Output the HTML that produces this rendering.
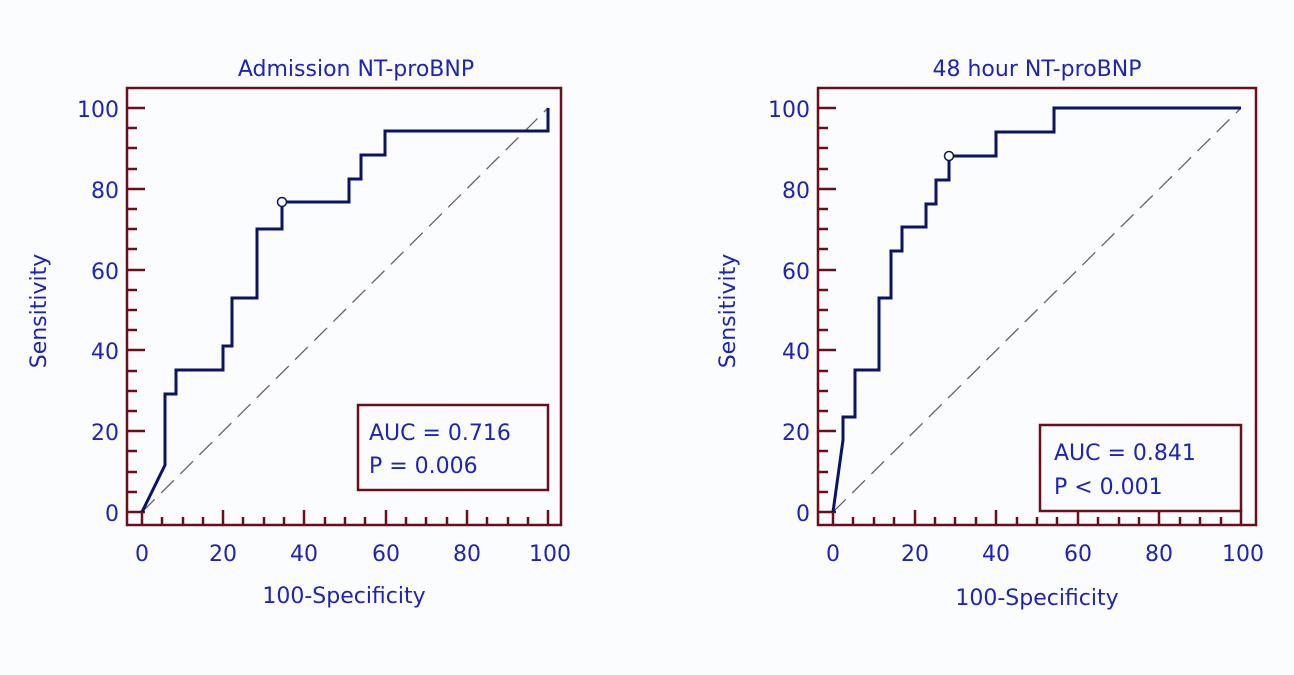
<!DOCTYPE html>
<html><head><meta charset="utf-8"><style>
html,body{margin:0;padding:0;background:#fbfcfe;}
svg{display:block;font-family:"DejaVu Sans","Liberation Sans",sans-serif;}
.t{fill:#1e24b4;font-size:22px;}
</style></head><body>
<svg width="1294" height="675" viewBox="0 0 1294 675" xmlns="http://www.w3.org/2000/svg">
<rect width="1294" height="675" fill="#fbfcfe"/>
<g>
<rect x="127" y="88" width="434" height="437" fill="none" stroke="#6a0e1c" stroke-width="2.5"/>
<g stroke="#6a0e1c" stroke-width="2.5">
<line x1="127" y1="512" x2="145" y2="512"/><line x1="127" y1="431" x2="145" y2="431"/><line x1="127" y1="350" x2="145" y2="350"/><line x1="127" y1="270" x2="145" y2="270"/><line x1="127" y1="189" x2="145" y2="189"/><line x1="127" y1="108" x2="145" y2="108"/>
<line x1="127" y1="492" x2="137" y2="492"/><line x1="127" y1="472" x2="137" y2="472"/><line x1="127" y1="451" x2="137" y2="451"/>
<line x1="127" y1="411" x2="137" y2="411"/><line x1="127" y1="391" x2="137" y2="391"/><line x1="127" y1="371" x2="137" y2="371"/>
<line x1="127" y1="330" x2="137" y2="330"/><line x1="127" y1="310" x2="137" y2="310"/><line x1="127" y1="290" x2="137" y2="290"/>
<line x1="127" y1="249" x2="137" y2="249"/><line x1="127" y1="229" x2="137" y2="229"/><line x1="127" y1="209" x2="137" y2="209"/>
<line x1="127" y1="169" x2="137" y2="169"/><line x1="127" y1="148" x2="137" y2="148"/><line x1="127" y1="128" x2="137" y2="128"/>
<line x1="142" y1="525" x2="142" y2="510"/><line x1="223" y1="525" x2="223" y2="510"/><line x1="304" y1="525" x2="304" y2="510"/><line x1="386" y1="525" x2="386" y2="510"/><line x1="467" y1="525" x2="467" y2="510"/><line x1="548" y1="525" x2="548" y2="510"/>
<line x1="162" y1="525" x2="162" y2="517"/><line x1="183" y1="525" x2="183" y2="517"/><line x1="203" y1="525" x2="203" y2="517"/>
<line x1="243" y1="525" x2="243" y2="517"/><line x1="264" y1="525" x2="264" y2="517"/><line x1="284" y1="525" x2="284" y2="517"/>
<line x1="325" y1="525" x2="325" y2="517"/><line x1="345" y1="525" x2="345" y2="517"/><line x1="365" y1="525" x2="365" y2="517"/>
<line x1="406" y1="525" x2="406" y2="517"/><line x1="426" y1="525" x2="426" y2="517"/><line x1="447" y1="525" x2="447" y2="517"/>
<line x1="487" y1="525" x2="487" y2="517"/><line x1="508" y1="525" x2="508" y2="517"/><line x1="528" y1="525" x2="528" y2="517"/>
</g>
<line x1="142" y1="512" x2="548" y2="108" stroke="#6a6070" stroke-width="1.3" stroke-dasharray="18,9"/>
<polyline fill="none" stroke="#0a1560" stroke-width="3" points="142,512 165,465 165,394 176,394 176,370 223,370 223,346 232,346 232,298 257,298 257,229 282,229 282,202 349,202 349,179 361,179 361,155 385,155 385,131 548,131 548,108"/>
<circle cx="282" cy="202" r="4.5" fill="#fbfcfe" stroke="#0a1560" stroke-width="1.5"/>
<rect x="358" y="405" width="190" height="85" fill="#fbfcfe" stroke="#6a0e1c" stroke-width="2.5"/>
<text class="t" x="369" y="440" font-size="24">AUC = 0.716</text>
<text class="t" x="369" y="473" font-size="24">P = 0.006</text>
<text class="t" x="356" y="76" text-anchor="middle" font-size="23">Admission NT-proBNP</text>
<g class="t" text-anchor="end" font-size="23">
<text x="119" y="521">0</text><text x="119" y="440">20</text><text x="119" y="359">40</text><text x="119" y="279">60</text><text x="119" y="198">80</text><text x="119" y="117">100</text>
</g>
<g class="t" text-anchor="middle" font-size="23">
<text x="142" y="561">0</text><text x="223" y="561">20</text><text x="304" y="561">40</text><text x="386" y="561">60</text><text x="467" y="561">80</text><text x="550" y="561">100</text>
</g>
<text class="t" x="344" y="603" text-anchor="middle" font-size="24">100-Specificity</text>
<text class="t" x="46" y="311" text-anchor="middle" font-size="24" transform="rotate(-90 46 311)">Sensitivity</text>
</g>
<g>
<rect x="818" y="88" width="438" height="437" fill="none" stroke="#6a0e1c" stroke-width="2.5"/>
<g stroke="#6a0e1c" stroke-width="2.5">
<line x1="818" y1="512" x2="836" y2="512"/><line x1="818" y1="431" x2="836" y2="431"/><line x1="818" y1="350" x2="836" y2="350"/><line x1="818" y1="270" x2="836" y2="270"/><line x1="818" y1="189" x2="836" y2="189"/><line x1="818" y1="108" x2="836" y2="108"/>
<line x1="818" y1="492" x2="828" y2="492"/><line x1="818" y1="472" x2="828" y2="472"/><line x1="818" y1="451" x2="828" y2="451"/>
<line x1="818" y1="411" x2="828" y2="411"/><line x1="818" y1="391" x2="828" y2="391"/><line x1="818" y1="371" x2="828" y2="371"/>
<line x1="818" y1="330" x2="828" y2="330"/><line x1="818" y1="310" x2="828" y2="310"/><line x1="818" y1="290" x2="828" y2="290"/>
<line x1="818" y1="249" x2="828" y2="249"/><line x1="818" y1="229" x2="828" y2="229"/><line x1="818" y1="209" x2="828" y2="209"/>
<line x1="818" y1="169" x2="828" y2="169"/><line x1="818" y1="148" x2="828" y2="148"/><line x1="818" y1="128" x2="828" y2="128"/>
<line x1="833" y1="525" x2="833" y2="510"/><line x1="915" y1="525" x2="915" y2="510"/><line x1="996" y1="525" x2="996" y2="510"/><line x1="1078" y1="525" x2="1078" y2="510"/><line x1="1159" y1="525" x2="1159" y2="510"/><line x1="1241" y1="525" x2="1241" y2="510"/>
<line x1="853" y1="525" x2="853" y2="517"/><line x1="874" y1="525" x2="874" y2="517"/><line x1="894" y1="525" x2="894" y2="517"/>
<line x1="935" y1="525" x2="935" y2="517"/><line x1="955" y1="525" x2="955" y2="517"/><line x1="976" y1="525" x2="976" y2="517"/>
<line x1="1017" y1="525" x2="1017" y2="517"/><line x1="1037" y1="525" x2="1037" y2="517"/><line x1="1057" y1="525" x2="1057" y2="517"/>
<line x1="1098" y1="525" x2="1098" y2="517"/><line x1="1119" y1="525" x2="1119" y2="517"/><line x1="1139" y1="525" x2="1139" y2="517"/>
<line x1="1180" y1="525" x2="1180" y2="517"/><line x1="1200" y1="525" x2="1200" y2="517"/><line x1="1221" y1="525" x2="1221" y2="517"/>
</g>
<line x1="833" y1="512" x2="1241" y2="108" stroke="#6a6070" stroke-width="1.3" stroke-dasharray="18,9"/>
<polyline fill="none" stroke="#0a1560" stroke-width="3" points="833,512 843,440 843,417 855,417 855,370 879,370 879,298 891,298 891,251 902,251 902,227 926,227 926,204 936,204 936,180 949,180 949,156 996,156 996,132 1054,132 1054,108 1241,108"/>
<circle cx="949" cy="156" r="4.5" fill="#fbfcfe" stroke="#0a1560" stroke-width="1.5"/>
<rect x="1040" y="425" width="201" height="86" fill="#fbfcfe" stroke="#6a0e1c" stroke-width="2.5"/>
<text class="t" x="1054" y="460" font-size="24">AUC = 0.841</text>
<text class="t" x="1054" y="494" font-size="24">P &lt; 0.001</text>
<text class="t" x="1037" y="76" text-anchor="middle" font-size="23">48 hour NT-proBNP</text>
<g class="t" text-anchor="end" font-size="23">
<text x="810" y="521">0</text><text x="810" y="440">20</text><text x="810" y="359">40</text><text x="810" y="279">60</text><text x="810" y="198">80</text><text x="810" y="117">100</text>
</g>
<g class="t" text-anchor="middle" font-size="23">
<text x="833" y="561">0</text><text x="915" y="561">20</text><text x="996" y="561">40</text><text x="1078" y="561">60</text><text x="1159" y="561">80</text><text x="1243" y="561">100</text>
</g>
<text class="t" x="1037" y="605" text-anchor="middle" font-size="24">100-Specificity</text>
<text class="t" x="735" y="311" text-anchor="middle" font-size="24" transform="rotate(-90 735 311)">Sensitivity</text>
</g>
</svg>
</body></html>
